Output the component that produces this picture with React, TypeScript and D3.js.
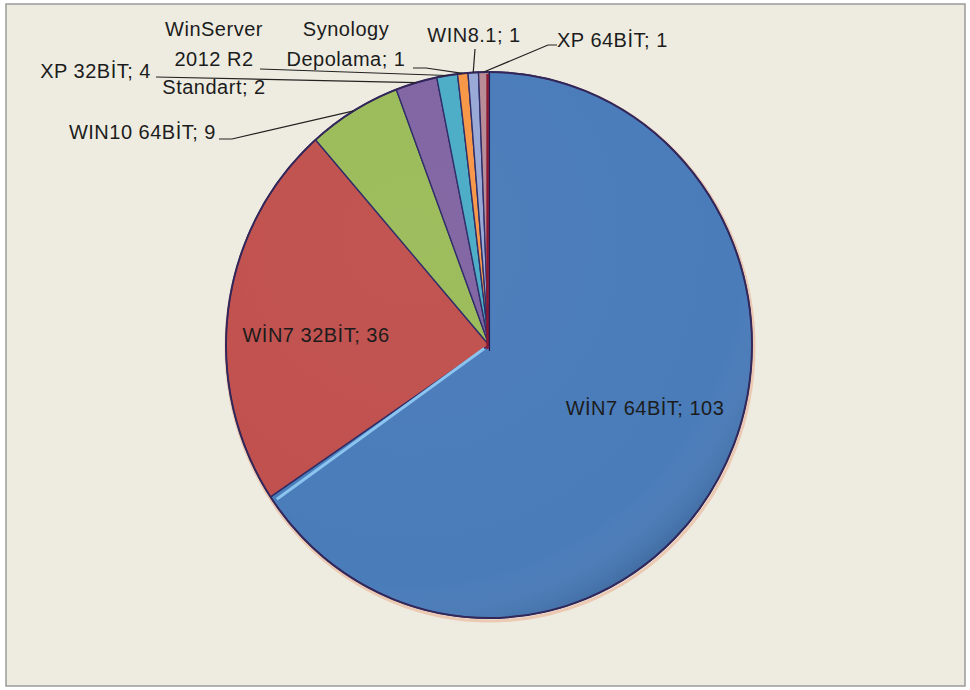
import React, { useEffect, useRef } from 'react';
import * as d3 from 'd3';

// data (Turkish labels kept as they are)
const categories = [
  'WİN7 64BİT',
  'WİN7 32BİT',
  'WIN10 64BİT',
  'XP 32BİT',
  'WinServer\n2012 R2\nStandart',
  'Synology\nDepolama',
  'WIN8.1',
  'XP 64BİT',
];
const counts = [103, 36, 9, 4, 2, 1, 1, 1];
const colors = ['#4A7CBA', '#C0504D', '#9BBB59', '#8064A2', '#4BACC6', '#F79646', '#98A8D6', '#B88A96'];

// label placement (layout only)
const labelLayout = [
  { x: 645, y: 415, anchor: 'middle', lead: null },
  { x: 316, y: 342, anchor: 'middle', lead: null },
  { x: 216, y: 139, anchor: 'end', lead: [[219, 139], [232, 139]] },
  { x: 151, y: 78, anchor: 'end', lead: [[156, 77]] },
  { x: 214, y: 36, anchor: 'middle', lead: [[260, 69]], lineGap: [30, 28] },
  { x: 346, y: 36, anchor: 'middle', lead: [[413, 68], [426, 68]], lineGap: [30] },
  { x: 474, y: 42, anchor: 'middle', lead: [[475, 49]] },
  { x: 557, y: 47, anchor: 'start', lead: [[557, 45], [548, 45]] },
];

const W = 970;
const H = 690;
const cx = 489;
const cy = 345;
const rx = 263;
const ry = 273;

const App = () => {
  const ref = useRef(null);

  useEffect(() => {
    const svg = d3.select(ref.current);
    svg.selectAll('*').remove();

    const defs = svg.append('defs');
    const shine = defs.append('radialGradient')
      .attr('id', 'shine')
      .attr('cx', '35%').attr('cy', '30%').attr('r', '75%');
    shine.append('stop').attr('offset', '0%').attr('stop-color', '#fff').attr('stop-opacity', 0.03);
    shine.append('stop').attr('offset', '85%').attr('stop-color', '#fff').attr('stop-opacity', 0);
    shine.append('stop').attr('offset', '100%').attr('stop-color', '#000').attr('stop-opacity', 0.12);

    // frame
    svg.append('rect').attr('width', W).attr('height', H).attr('fill', '#fff');
    svg.append('rect')
      .attr('x', 6).attr('y', 4).attr('width', 959).attr('height', 682)
      .attr('fill', '#EEECE1')
      .attr('stroke', '#9a9a9a').attr('stroke-width', 1.5);

    const pie = d3.pie().sort(null).value(d => d)(counts);
    const arc = d3.arc().innerRadius(0).outerRadius(ry);
    const sx = rx / ry;

    // soft shadow under the rim
    svg.append('ellipse')
      .attr('cx', cx + 1).attr('cy', cy + 2).attr('rx', rx + 1).attr('ry', ry + 1)
      .attr('fill', 'none').attr('stroke', '#e9b394').attr('stroke-width', 3).attr('opacity', 0.6);

    const g = svg.append('g').attr('transform', `translate(${cx},${cy}) scale(${sx},1)`);

    g.selectAll('path.slice')
      .data(pie)
      .join('path')
      .attr('class', 'slice')
      .attr('d', arc)
      .attr('fill', (d, i) => colors[i])
      .attr('stroke', '#2b2a66')
      .attr('stroke-width', 1.4)
      .attr('stroke-linejoin', 'round');

    g.append('ellipse')
      .attr('rx', ry).attr('ry', ry)
      .attr('fill', 'url(#shine)');

    g.append('circle')
      .attr('r', ry)
      .attr('fill', 'none')
      .attr('stroke', '#33275a')
      .attr('stroke-width', 2);

    // bevel highlight along blue / red edge
    const edge = pie[0].endAngle;
    const [ex, ey] = d3.pointRadial(edge, ry - 3);
    const [ox, oy] = d3.pointRadial(edge - 0.012, 6);
    g.append('line')
      .attr('x1', ox).attr('y1', oy).attr('x2', ex + 4).attr('y2', ey + 4)
      .attr('stroke', '#8cc4f0').attr('stroke-width', 3);

    // dark red edge at twelve o'clock
    g.append('line')
      .attr('x1', -1.5).attr('y1', 4).attr('x2', -1.5).attr('y2', -ry + 2)
      .attr('stroke', '#8e1630').attr('stroke-width', 2.5);
    g.append('line')
      .attr('x1', 0.5).attr('y1', 6).attr('x2', 0.5).attr('y2', -ry + 1)
      .attr('stroke', '#1d1b52').attr('stroke-width', 1.2);

    // leader lines
    pie.forEach((d, i) => {
      const lay = labelLayout[i];
      if (!lay.lead) return;
      const mid = (d.startAngle + d.endAngle) / 2;
      const [px, py] = d3.pointRadial(mid, ry);
      const pts = [...lay.lead, [cx + px * sx, cy + py]];
      svg.append('path')
        .attr('d', d3.line()(pts))
        .attr('fill', 'none')
        .attr('stroke', '#222')
        .attr('stroke-width', 1.2);
    });

    // labels
    pie.forEach((d, i) => {
      const lay = labelLayout[i];
      const lines = `${categories[i]}; ${counts[i]}`.split('\n');
      const t = svg.append('text')
        .attr('x', lay.x).attr('y', lay.y)
        .attr('text-anchor', lay.anchor)
        .attr('font-family', '"Liberation Sans", Arial, sans-serif')
        .attr('font-size', 20)
        .attr('letter-spacing', 0.5)
        .attr('fill', '#1c1c1c');
      lines.forEach((ln, k) => {
        t.append('tspan')
          .attr('x', lay.x)
          .attr('dy', k === 0 ? 0 : (lay.lineGap ? lay.lineGap[k - 1] : 24))
          .text(ln);
      });
    });
  }, []);

  return (
    <svg ref={ref} width={W} height={H}
      style={{ position: 'absolute', left: 0, top: 0, display: 'block' }} />
  );
};

export default App;
